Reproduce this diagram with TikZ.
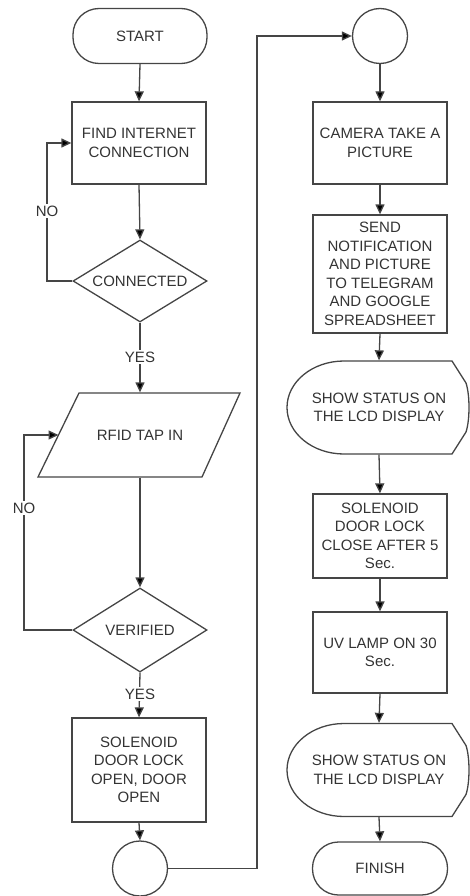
\documentclass[tikz,border=0pt]{standalone}
\usepackage{fontspec}
\setmainfont{Liberation Sans}
\usetikzlibrary{shapes.geometric,arrows.meta}
\definecolor{ln}{HTML}{454545}
\definecolor{tx}{HTML}{333333}
\tikzset{
  box/.style={draw=ln, rectangle, minimum width=134pt, inner sep=0pt, align=center},
  term/.style={draw=ln, rectangle, rounded corners=26pt, minimum width=134pt, minimum height=55pt, inner sep=0pt, align=center},
  dec/.style={draw=ln, diamond, aspect=1.6, minimum width=134pt, inner sep=0pt},
  conn/.style={draw=ln, circle, minimum size=55pt, inner sep=0pt},
  area/.style={rectangle, inner sep=0pt, align=center},
  arr/.style={draw=ln, -{Triangle[length=10pt,width=9pt,fill=black]}},
  lbl/.style={fill=white, inner sep=1.5pt},
  lcd/.pic={\draw[ln] (-34,-46.5) -- (74,-46.5) -- (88,-24.5) .. controls (92,-12.5) and (92,12.5) .. (88,24.5) -- (74,46.5) -- (-34,46.5) .. controls (-65.5,46.5) and (-91,25.7) .. (-91,0) .. controls (-91,-25.7) and (-65.5,-46.5) .. (-34,-46.5) -- cycle;}
}
\begin{document}
\begin{tikzpicture}[x=1pt,y=1pt,yscale=-1,
  font=\fontsize{15}{18.5}\selectfont, text=tx, line width=1.3pt]
\useasboundingbox (0,0) rectangle (470,896);

% left column
\node[term] (start) at (140,36) {START};
\node[box, minimum height=82pt] (find) at (139,143) {FIND INTERNET\\CONNECTION};
\node[dec, minimum height=82pt] (conn) at (140,281) {CONNECTED};
\coordinate (pTL) at (79,393);
\coordinate (pTR) at (240,393);
\coordinate (pBR) at (202,477);
\coordinate (pBL) at (38,477);
\draw[ln] (pTL) -- (pTR) -- (pBR) -- (pBL) -- cycle;
\node[area, minimum width=120pt, minimum height=84pt] (rfid) at (140,435) {RFID TAP IN};
\coordinate (rfidL) at (58.5,435);
\node[dec, minimum height=84pt] (verif) at (140,630) {VERIFIED};
\node[box, minimum height=104pt] (sol1) at (139,770) {SOLENOID\\DOOR LOCK\\OPEN, DOOR\\OPEN};
\node[conn] (c1) at (140,868.5) {};

% right column
\node[conn] (c2) at (380,36) {};
\node[box, minimum height=82pt] (cam) at (380,143) {CAMERA TAKE A\\PICTURE};
\node[box, minimum height=118pt] (send) at (380,274) {SEND\\NOTIFICATION\\AND PICTURE\\TO TELEGRAM\\AND GOOGLE\\SPREADSHEET};
\pic (lcdA) at (378,407.5) {lcd};
\node[area, minimum width=150pt, minimum height=93pt] (lcd1) at (379,407.5) {SHOW STATUS ON\\THE LCD DISPLAY};
\node[box, minimum height=84pt] (sol2) at (380,536) {SOLENOID\\DOOR LOCK\\CLOSE AFTER 5\\Sec.};
\node[box, minimum height=81pt] (uv) at (380,652.5) {UV LAMP ON 30\\Sec.};
\pic (lcdB) at (378,770) {lcd};
\node[area, minimum width=150pt, minimum height=93pt] (lcd2) at (379,770) {SHOW STATUS ON\\THE LCD DISPLAY};
\node[term, minimum height=53pt, minimum width=135pt] (fin) at (380,868.5) {FINISH};

% connectors
\draw[arr] (start.south) -- (find.north);
\draw[arr] (find.south) -- (conn.north);
\coordinate (n1) at (47,281);
\draw[arr] (conn.west) -- (n1) |- (find.west);
\draw[arr] (conn.south) -- (rfid.north);
\draw[arr] (rfid.south) -- (verif.north);
\coordinate (n2) at (24,630);
\draw[arr] (verif.west) -- (n2) |- (rfidL);
\draw[arr] (verif.south) -- (sol1.north);
\draw[arr] (sol1.south) -- (c1.north);
\coordinate (jx) at (257,36);
\draw[arr] (c1.east) -| (jx) -- (c2.west);
\draw[arr] (c2.south) -- (cam.north);
\draw[arr] (cam.south) -- (send.north);
\draw[arr] (send.south) -- (lcd1.north);
\draw[arr] (lcd1.south) -- (sol2.north);
\draw[arr] (sol2.south) -- (uv.north);
\draw[arr] (uv.south) -- (lcd2.north);
\draw[arr] (lcd2.south) -- (fin.north);

% labels
\node[lbl] (no1) at (47,211) {NO};
\node[lbl] (yes1) at (140,357) {YES};
\node[lbl] (no2) at (24,508) {NO};
\node[lbl] (yes2) at (140,694) {YES};
\end{tikzpicture}
\end{document}
